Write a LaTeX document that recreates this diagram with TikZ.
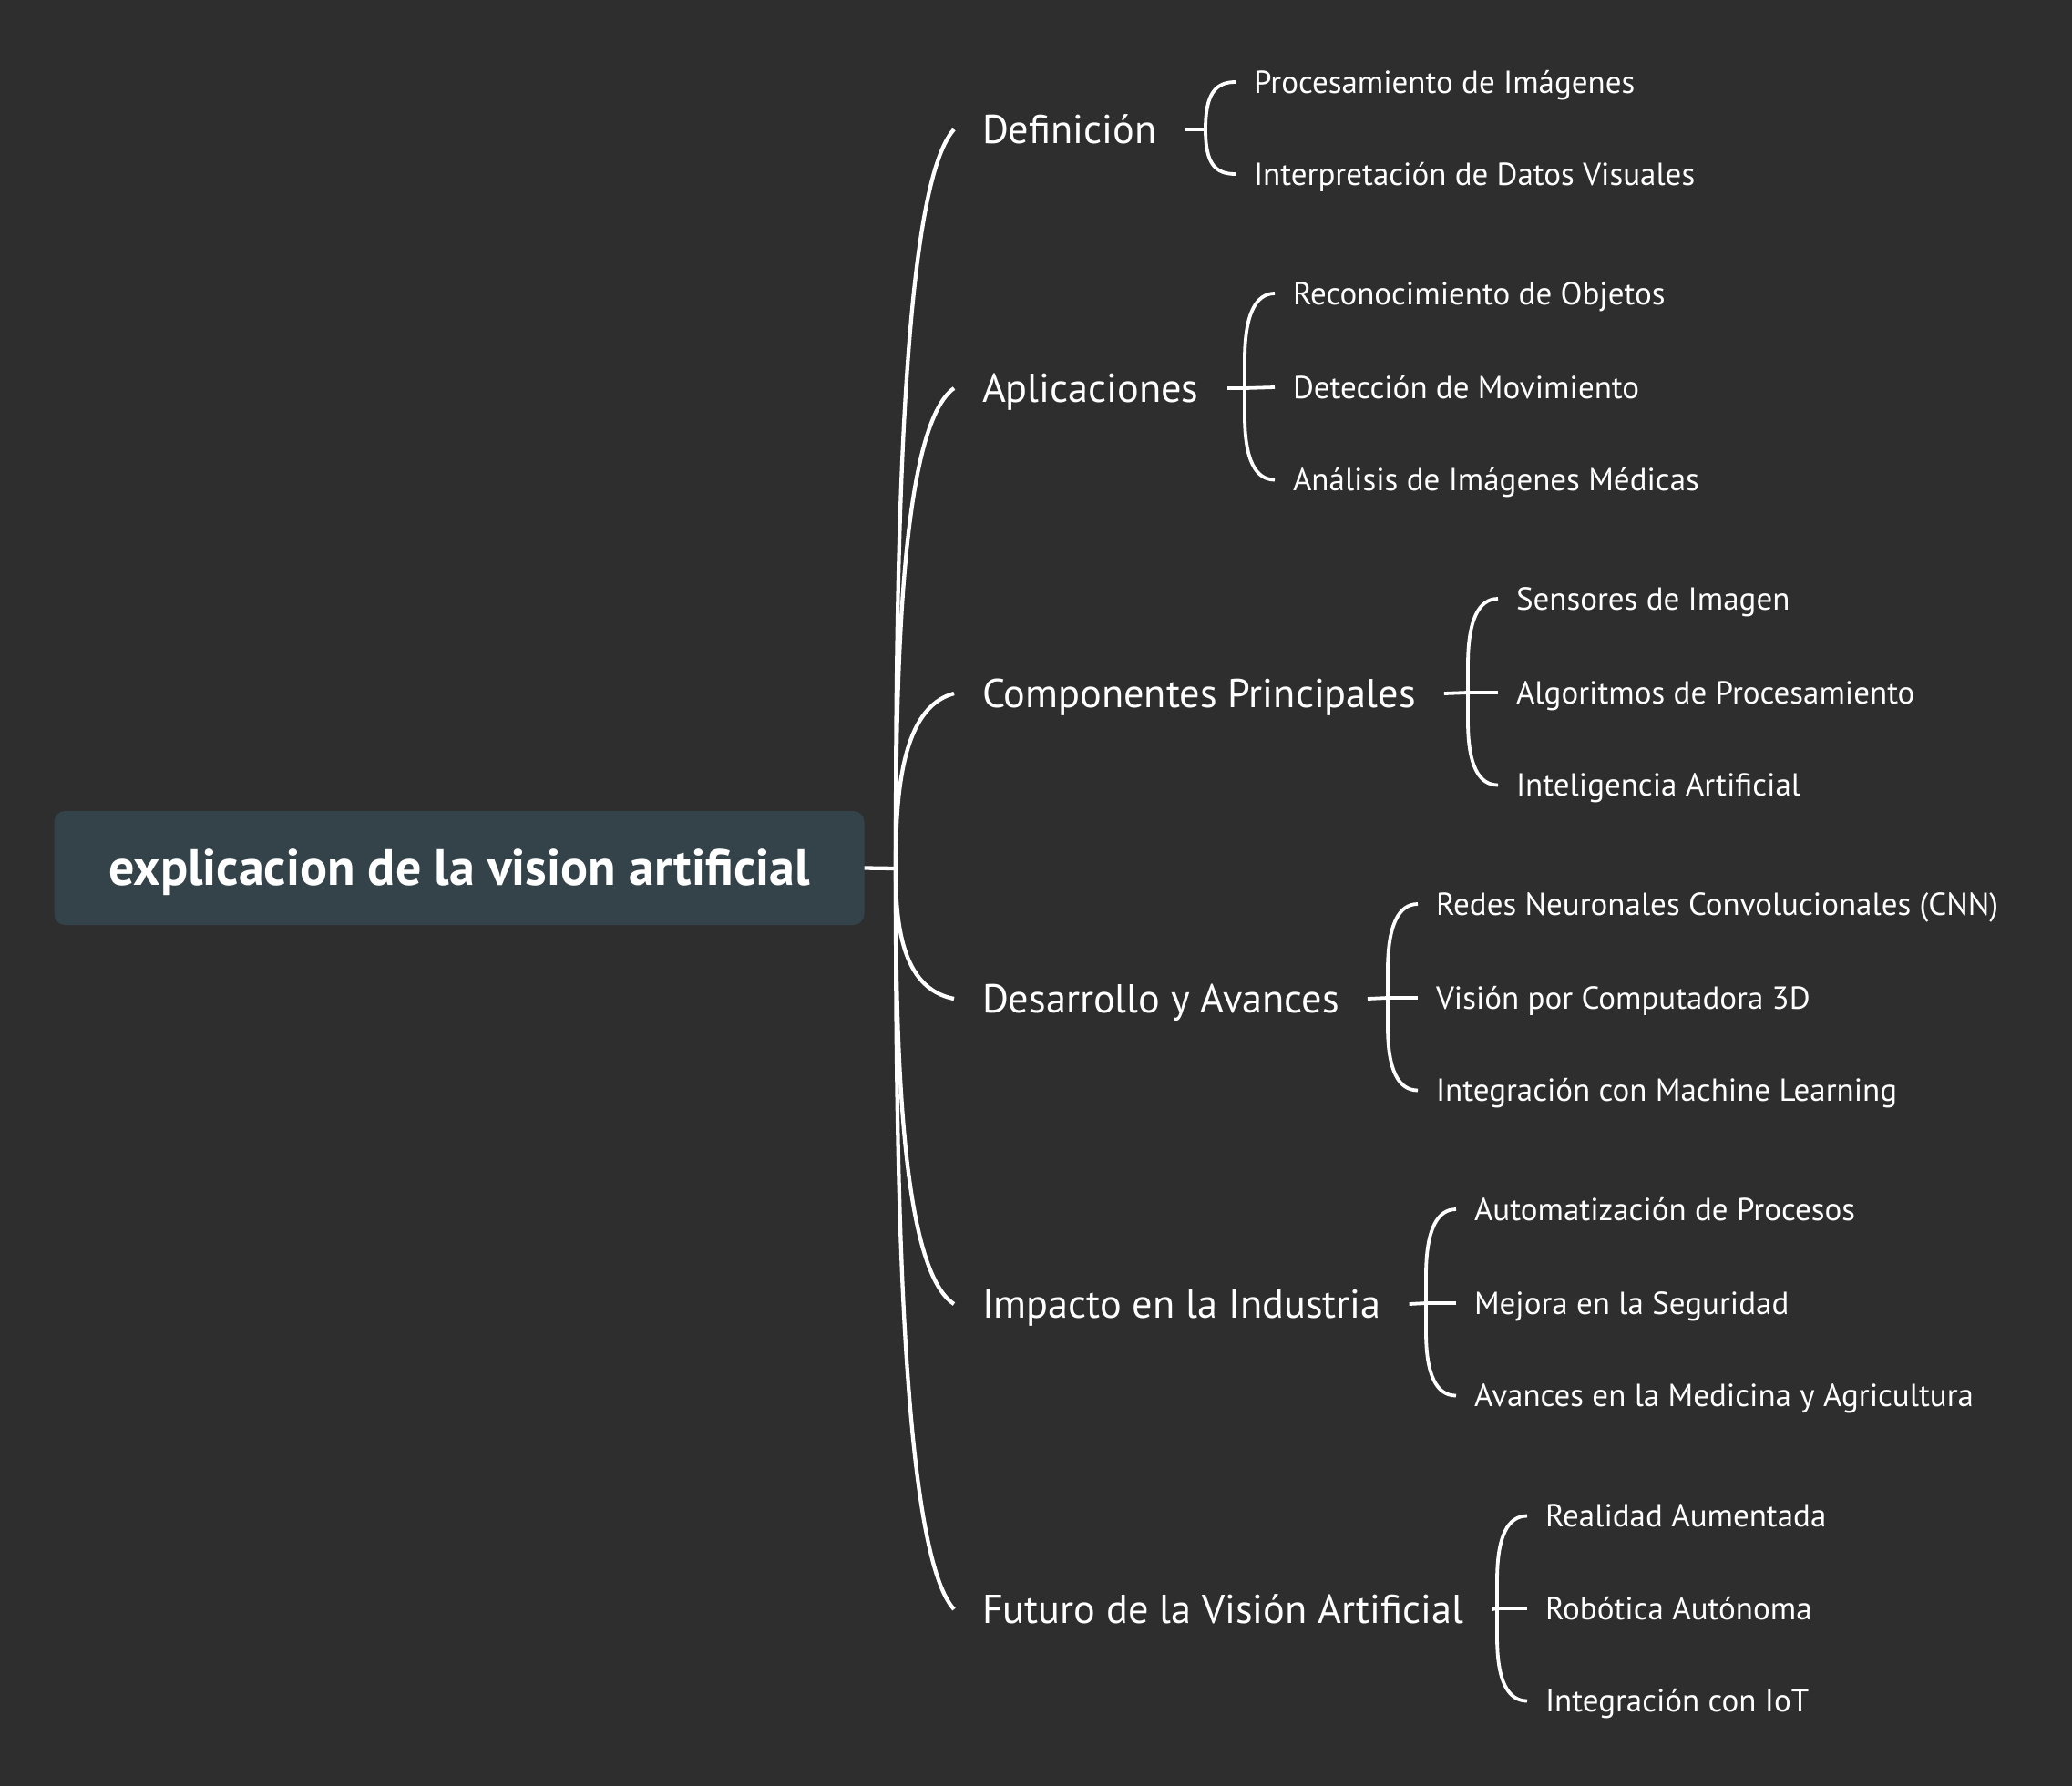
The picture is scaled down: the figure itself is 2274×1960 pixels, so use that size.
\documentclass[tikz,border=0pt]{standalone}
\usepackage{fontspec}
\setmainfont{PT Sans}
\definecolor{bg}{HTML}{2F2E2F}
\definecolor{rootfill}{HTML}{344349}
\tikzset{
  rootbox/.style={fill=rootfill, rounded corners=12pt, text=white, inner sep=0pt,
    minimum width=889pt, minimum height=125pt, text height=38pt, text depth=0pt,
    font=\fontsize{56}{64}\selectfont\bfseries},
  branch/.style={anchor=west, text=white, inner sep=0pt, outer xsep=31pt,
    text height=30.8pt, text depth=0pt, font=\fontsize{44.3}{52}\selectfont},
  leaf/.style={anchor=west, text=white, inner sep=0pt, outer xsep=20pt,
    text height=24.6pt, text depth=0pt, font=\fontsize{35}{42}\selectfont},
  trunk/.style={draw=white, line width=4.3pt},
  twig/.style={draw=white, line width=3.8pt}
}
\begin{document}
\begin{tikzpicture}[x=1pt,y=-1pt]
\fill[bg] (0,0) rectangle (2274,1960);
\useasboundingbox (0,0) rectangle (2274,1960);

\node[rootbox] (root) at (504,952.5) {explicacion de la vision artificial};
\coordinate (jt) at (983,953);
\draw[trunk] (root.east) -- (jt);

% branches
\node[branch] (b1) at (1047,142) {Definición};
\node[branch] (b2) at (1047,426) {Aplicaciones};
\node[branch] (b3) at (1047,761) {Componentes Principales};
\node[branch] (b4) at (1047,1096) {Desarrollo y Avances};
\node[branch] (b5) at (1047,1431) {Impacto en la Industria};
\node[branch] (b6) at (1047,1766) {Futuro de la Visión Artificial};

\draw[trunk] (jt) .. controls (983,628.6) and (988,206.9) .. (b1.west);
\draw[trunk] (jt) .. controls (983,742.2) and (988,468.2) .. (b2.west);
\draw[trunk] (jt) .. controls (983,876.2) and (988,776.4) .. (b3.west);
\draw[trunk] (jt) .. controls (983,1010.2) and (988,1084.6) .. (b4.west);
\draw[trunk] (jt) .. controls (983,1144.2) and (988,1392.8) .. (b5.west);
\draw[trunk] (jt) .. controls (983,1278.2) and (988,1701) .. (b6.west);

% Definicion
\coordinate (k1) at (1323,142);
\node[leaf] (c11) at (1356,90) {Procesamiento de Imágenes};
\node[leaf] (c12) at (1356,191) {Interpretación de Datos Visuales};
\draw[twig] (b1.east) -- (k1);
\draw[twig] (k1) .. controls (1323,104) and (1333,90) .. (c11.west);
\draw[twig] (k1) .. controls (1323,179) and (1333,191) .. (c12.west);

% Aplicaciones
\coordinate (k2) at (1366,426);
\node[leaf] (c21) at (1399,322) {Reconocimiento de Objetos};
\node[leaf] (c22) at (1399,425) {Detección de Movimiento};
\node[leaf] (c23) at (1399,526.5) {Análisis de Imágenes Médicas};
\draw[twig] (k2) -- (b2.east);
\draw[twig] (k2) -- (1366,395) .. controls (1366,345) and (1378,322) .. (c21.west);
\draw[twig] (k2) -- (c22.west);
\draw[twig] (k2) -- (1366,456) .. controls (1366,505) and (1378,526.5) .. (c23.west);

% Componentes
\coordinate (k3) at (1611,760);
\node[leaf] (c31) at (1644,657) {Sensores de Imagen};
\node[leaf] (c32) at (1644,760) {Algoritmos de Procesamiento};
\node[leaf] (c33) at (1644,861.5) {Inteligencia Artificial};
\draw[twig] (k3) -- (b3.east);
\draw[twig] (k3) -- (1611,730) .. controls (1611,680) and (1623,657) .. (c31.west);
\draw[twig] (k3) -- (c32.west);
\draw[twig] (k3) -- (1611,791) .. controls (1611,840) and (1623,861.5) .. (c33.west);

% Desarrollo
\coordinate (k4) at (1523,1095);
\node[leaf] (c41) at (1556,992) {Redes Neuronales Convolucionales (CNN)};
\node[leaf] (c42) at (1556,1095) {Visión por Computadora 3D};
\node[leaf] (c43) at (1556,1196.5) {Integración con Machine Learning};
\draw[twig] (k4) -- (b4.east);
\draw[twig] (k4) -- (1523,1065) .. controls (1523,1015) and (1535,992) .. (c41.west);
\draw[twig] (k4) -- (c42.west);
\draw[twig] (k4) -- (1523,1126) .. controls (1523,1175) and (1535,1196.5) .. (c43.west);

% Impacto
\coordinate (k5) at (1565,1430);
\node[leaf] (c51) at (1598,1327) {Automatización de Procesos};
\node[leaf] (c52) at (1598,1430) {Mejora en la Seguridad};
\node[leaf] (c53) at (1598,1531.5) {Avances en la Medicina y Agricultura};
\draw[twig] (k5) -- (b5.east);
\draw[twig] (k5) -- (1565,1400) .. controls (1565,1350) and (1577,1327) .. (c51.west);
\draw[twig] (k5) -- (c52.west);
\draw[twig] (k5) -- (1565,1461) .. controls (1565,1510) and (1577,1531.5) .. (c53.west);

% Futuro
\coordinate (k6) at (1643,1765);
\node[leaf] (c61) at (1676,1663.5) {Realidad Aumentada};
\node[leaf] (c62) at (1676,1765) {Robótica Autónoma};
\node[leaf] (c63) at (1676,1866.5) {Integración con IoT};
\draw[twig] (k6) -- (b6.east);
\draw[twig] (k6) -- (1643,1735) .. controls (1643,1685) and (1655,1663.5) .. (c61.west);
\draw[twig] (k6) -- (c62.west);
\draw[twig] (k6) -- (1643,1796) .. controls (1643,1845) and (1655,1866.5) .. (c63.west);
\end{tikzpicture}
\end{document}
